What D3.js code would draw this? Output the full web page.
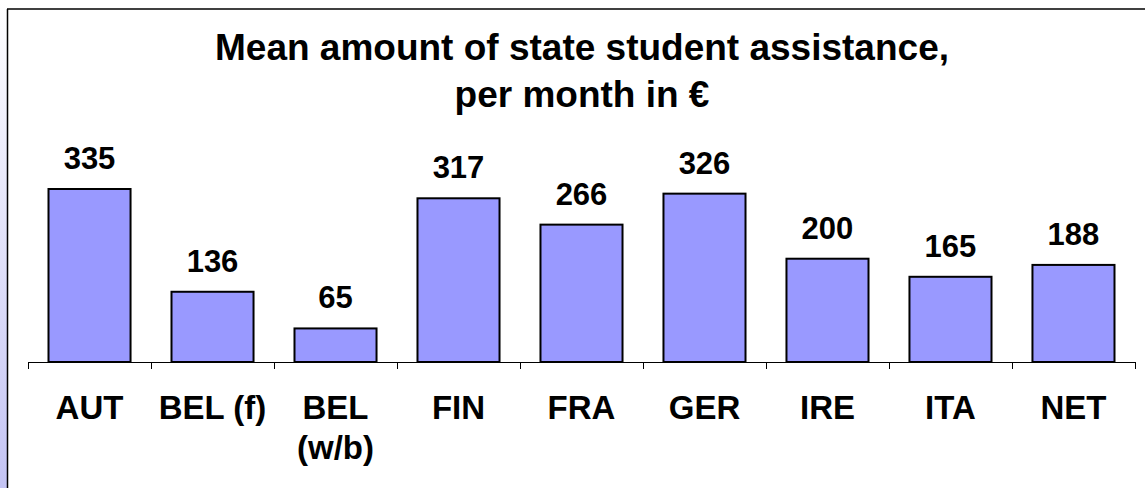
<!DOCTYPE html>
<html lang="en">
<head>
    <meta charset="UTF-8">
    <title>Mean amount of state student assistance</title>
    <style>
        body {
            margin: 0;
            background-color: white;
        }

        svg {
            display: block;
        }

        text {
            font-family: Arial, "Liberation Sans", sans-serif;
            font-weight: bold;
            fill: black;
        }

        .bar {
            fill: #9999ff;
            stroke: black;
            stroke-width: 2px;
        }
    </style>
    <script src="https://d3js.org/d3.v7.min.js"></script>
</head>
<body>

<script>
    const width = 1145;
    const height = 488;

    // data
    const countries = ["AUT", "BEL (f)", "BEL (w/b)", "FIN", "FRA", "GER", "IRE", "ITA", "NET"];
    const amounts = [335, 136, 65, 317, 266, 326, 200, 165, 188];
    const titleLines = ["Mean amount of state student assistance,", "per month in €"];

    const svg = d3.select("body")
                  .append("svg")
                  .attr("width", width)
                  .attr("height", height);

    // left gradient strip
    const grad = svg.append("defs")
                    .append("linearGradient")
                    .attr("id", "strip")
                    .attr("x1", 0).attr("y1", 0)
                    .attr("x2", 0).attr("y2", 1);
    grad.append("stop").attr("offset", "0%").attr("stop-color", "#ffffff");
    grad.append("stop").attr("offset", "100%").attr("stop-color", "#c4c4f4");

    svg.append("rect")
       .attr("x", 0).attr("y", 0)
       .attr("width", 7).attr("height", height)
       .attr("fill", "url(#strip)");

    // frame (top and left edges only visible)
    svg.append("line")
       .attr("x1", 7).attr("y1", 9).attr("x2", width).attr("y2", 9)
       .attr("stroke", "#404040").attr("stroke-width", 2);
    svg.append("line")
       .attr("x1", 7.5).attr("y1", 9).attr("x2", 7.5).attr("y2", height)
       .attr("stroke", "black").attr("stroke-width", 1.5);

    const x = d3.scaleBand()
                .domain(countries)
                .range([28, 1135])
                .paddingInner(0.333)
                .paddingOuter(0.1667);

    const y = d3.scaleLinear()
                .domain([0, 335])
                .range([362, 189]);

    // title
    svg.append("text")
       .attr("text-anchor", "middle")
       .attr("font-size", 37)
       .selectAll("tspan")
       .data(titleLines)
       .enter()
       .append("tspan")
       .attr("x", 582)
       .attr("y", (d, i) => 60 + i * 47)
       .text(d => d);

    // bars
    svg.selectAll(".bar")
       .data(amounts)
       .enter()
       .append("rect")
       .attr("class", "bar")
       .attr("x", (d, i) => x(countries[i]))
       .attr("y", d => y(d))
       .attr("width", x.bandwidth())
       .attr("height", d => y(0) - y(d));

    // value labels
    svg.selectAll(".value")
       .data(amounts)
       .enter()
       .append("text")
       .attr("class", "value")
       .attr("text-anchor", "middle")
       .attr("font-size", 31)
       .attr("x", (d, i) => x(countries[i]) + x.bandwidth() / 2)
       .attr("y", d => y(d) - 20)
       .text(d => d);

    // x axis: baseline with ticks between categories
    const axis = svg.append("g").attr("class", "axis");
    axis.append("line")
        .attr("x1", 28).attr("x2", 1135)
        .attr("y1", y(0) + 0.5).attr("y2", y(0) + 0.5)
        .attr("stroke", "black");

    const bounds = countries.map(c => x(c) - x.step() * x.paddingInner() / 2);
    bounds.push(1135);
    axis.selectAll(".tick")
        .data(bounds)
        .enter()
        .append("line")
        .attr("class", "tick")
        .attr("x1", d => Math.round(d) + 0.5).attr("x2", d => Math.round(d) + 0.5)
        .attr("y1", y(0)).attr("y2", y(0) + 7)
        .attr("stroke", "black");

    // category labels, wrapped on the space for "BEL (w/b)"
    const labels = axis.selectAll(".cat")
        .data(countries)
        .enter()
        .append("text")
        .attr("class", "cat")
        .attr("text-anchor", "middle")
        .attr("font-size", 33);

    labels.each(function(d) {
        const parts = d === "BEL (w/b)" ? ["BEL", "(w/b)"] : [d];
        d3.select(this).selectAll("tspan")
          .data(parts)
          .enter()
          .append("tspan")
          .attr("x", x(d) + x.bandwidth() / 2)
          .attr("y", (p, i) => 419 + i * 40)
          .text(p => p);
    });
</script>

</body>
</html>
